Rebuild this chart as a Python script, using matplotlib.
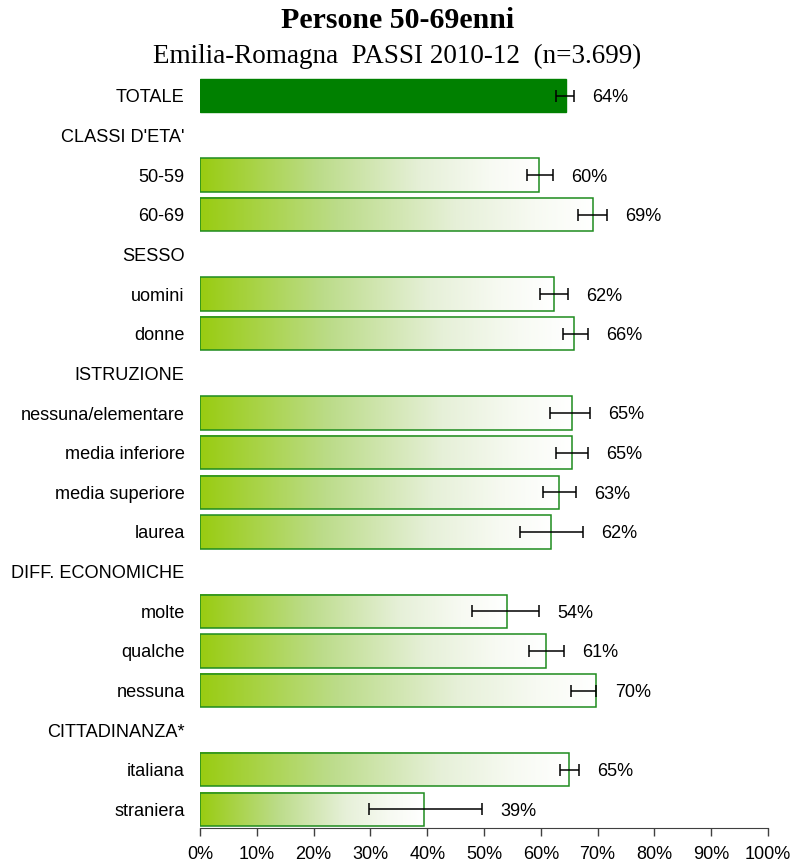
import matplotlib.pyplot as plt
import numpy as np
from matplotlib.colors import LinearSegmentedColormap

# Rows from top to bottom; headers have no bar (None)
labels = ["TOTALE", "CLASSI D'ETA'", "50-59", "60-69", "SESSO", "uomini", "donne",
          "ISTRUZIONE", "nessuna/elementare", "media inferiore", "media superiore", "laurea",
          "DIFF. ECONOMICHE", "molte", "qualche", "nessuna",
          "CITTADINANZA*", "italiana", "straniera"]
values = [64.4, None, 59.7, 69.2, None, 62.3, 65.8,
          None, 65.5, 65.5, 63.2, 61.8,
          None, 54.0, 61.0, 69.7,
          None, 65.0, 39.4]
ci_low = [62.6, None, 57.5, 66.5, None, 59.9, 63.9,
          None, 61.6, 62.7, 60.4, 56.3,
          None, 47.9, 57.9, 65.4,
          None, 63.4, 29.8]
ci_high = [65.9, None, 62.2, 71.7, None, 64.8, 68.3,
           None, 68.7, 68.3, 66.2, 67.4,
           None, 59.7, 64.1, 69.8,
           None, 66.8, 49.7]
pct_text = ["64%", None, "60%", "69%", None, "62%", "66%",
            None, "65%", "65%", "63%", "62%",
            None, "54%", "61%", "70%",
            None, "65%", "39%"]

plt.rcParams['font.family'] = ['Liberation Sans', 'DejaVu Sans']

fig = plt.figure(figsize=(7.95, 8.66), dpi=100)
ax = fig.add_axes([200 / 795, 38 / 866, 568 / 795, (828 - 76) / 866])

# gradient fill for the subgroup bars: yellow-green fading to white
grad = LinearSegmentedColormap.from_list(
    "g", [(0.0, "#99cc11"), (0.35, "#bcdc8a"), (0.65, "#e6f0d8"), (0.85, "#f7faf2"), (1.0, "#ffffff")])
gradient = np.linspace(0, 1, 256).reshape(1, -1)

h = 0.84
y = np.arange(len(labels))
for i, v in enumerate(values):
    if v is None:
        continue
    if i == 0:
        ax.barh(i, v, height=h, color="#008000", edgecolor="#008000", linewidth=1, zorder=2)
    else:
        ax.imshow(gradient, cmap=grad, aspect="auto", extent=[0, v, i + h / 2, i - h / 2],
                  interpolation="bicubic", zorder=1)
        ax.barh(i, v, height=h, facecolor="none", edgecolor="#1e8c1e", linewidth=1.1, zorder=2)
    ax.errorbar(v, i, xerr=[[v - ci_low[i]], [ci_high[i] - v]], fmt="none",
                ecolor="black", elinewidth=1.1, capsize=4, capthick=1.1, zorder=3)
    ax.text(ci_high[i] + 3.2, i + 0.05, pct_text[i], ha="left", va="center", fontsize=13)

ax.set_xlim(0, 100)
ax.set_ylim(len(labels) - 1 + 0.467, -0.5)
ax.set_yticks(y)
ax.set_yticklabels(labels, fontsize=13.1)
ax.tick_params(axis="y", length=0, pad=11)
ax.set_xticks(np.arange(0, 101, 10))
ax.set_xticklabels([f"{t}%" for t in range(0, 101, 10)], fontsize=13)
ax.tick_params(axis="x", length=6, width=1, color="#404040", pad=7)
for s in ["top", "right", "left"]:
    ax.spines[s].set_visible(False)
ax.spines["bottom"].set_color("#404040")

fig.text(0.5, 1 - 21 / 866, "Persone 50-69enni", ha="center", va="center",
         fontsize=21.5, fontweight="bold", family="Liberation Serif")
fig.text(0.5, 1 - 56 / 866, "Emilia-Romagna  PASSI 2010-12  (n=3.699)", ha="center", va="center",
         fontsize=19.5, family="Liberation Serif")

fig.savefig("out.png", dpi=100)
